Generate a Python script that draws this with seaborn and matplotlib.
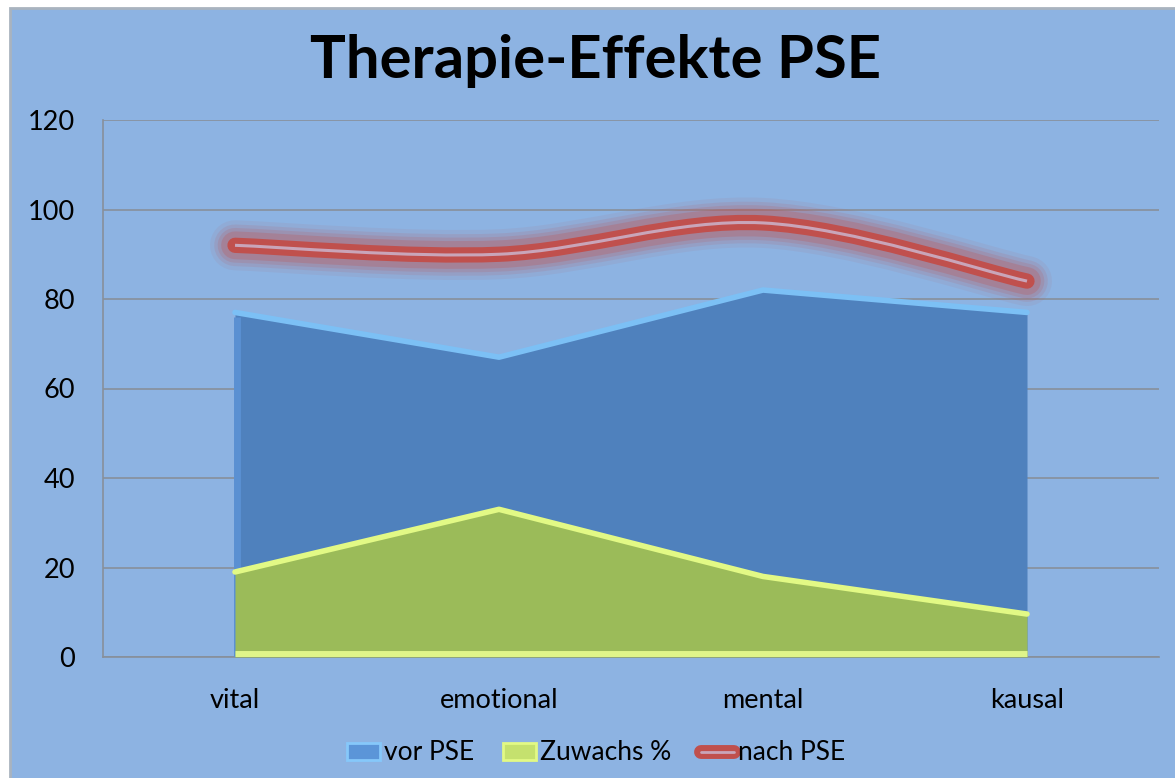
import numpy as np
import pandas as pd
import matplotlib
matplotlib.use("Agg")
import matplotlib.pyplot as plt
import matplotlib.patheffects as pe
from matplotlib.path import Path
from matplotlib.patches import PathPatch, Patch, Rectangle
from matplotlib.lines import Line2D
import seaborn as sns

# values
categories = ["vital", "emotional", "mental", "kausal"]
vor_pse = [77, 67, 82, 77]
zuwachs = [19, 33, 18, 9.6]
nach_pse = [92, 90, 97, 84]
yticks = [0, 20, 40, 60, 80, 100, 120]

df = pd.DataFrame({"kategorie": categories, "vor PSE": vor_pse,
                   "Zuwachs %": zuwachs, "nach PSE": nach_pse})
df["pos"] = np.arange(len(df))

sns.set_theme(style="white")
plt.rcParams["font.family"] = ["Lato", "DejaVu Sans"]
plt.rcParams["text.color"] = "black"

BG = "#8db3e2"
BLUE = "#4f81bd"
GREEN = "#9bbb59"
RED = "#c0504d"
GRID = "#878f9a"


def smooth_path(x, y):
    # Catmull-Rom style bezier through the data points (like Excel's smoothed line)
    x = np.asarray(x, float)
    y = np.asarray(y, float)
    verts = [(x[0], y[0])]
    codes = [Path.MOVETO]
    n = len(x)
    for i in range(n - 1):
        p0 = i - 1 if i > 0 else i
        p3 = i + 2 if i + 2 < n else i + 1
        c1 = (x[i] + (x[i + 1] - x[p0]) / 6, y[i] + (y[i + 1] - y[p0]) / 6)
        c2 = (x[i + 1] - (x[p3] - x[i]) / 6, y[i + 1] - (y[p3] - y[i]) / 6)
        verts += [c1, c2, (x[i + 1], y[i + 1])]
        codes += [Path.CURVE4] * 3
    return Path(verts, codes)


fig = plt.figure(figsize=(11.75, 7.78), dpi=100, facecolor="white")
fig.patches.append(Rectangle((10 / 1175, -0.01), 1.0, 1 - 8 / 778 + 0.01,
                             transform=fig.transFigure, facecolor=BG,
                             edgecolor="#a9b3bf", lw=2, zorder=-10))

ax = fig.add_axes([103 / 1175, 1 - 657 / 778, (1159 - 103) / 1175, (657 - 120) / 778])
ax.set_facecolor("none")

# vor PSE area
ax.fill_between(df["pos"], 0, df["vor PSE"], color=BLUE, lw=0, zorder=2)
ax.plot([0.008, 0.008], [0, vor_pse[0] - 1], color="#5a90d2", lw=5,
        solid_capstyle="butt", zorder=3)
sns.lineplot(x=df["pos"], y=df["vor PSE"], ax=ax, color="#7cc0f5", lw=4, zorder=3)

# Zuwachs % area
ax.fill_between(df["pos"], 0, df["Zuwachs %"], color=GREEN, lw=0, zorder=4)
sns.lineplot(x=df["pos"], y=df["Zuwachs %"], ax=ax, color="#e2f985", lw=4, zorder=5)
ax.plot([0, 3], [0.6, 0.6], color="#dff58a", lw=5, solid_capstyle="butt", zorder=5)

# nach PSE smoothed line with glow and double stroke
path = smooth_path(df["pos"], df["nach PSE"])
for lw, a in [(36, 0.08), (30, 0.12), (25, 0.16), (20, 0.25)]:
    ax.add_patch(PathPatch(path, fill=False, edgecolor=RED, lw=lw, alpha=a,
                           capstyle="round", joinstyle="round", zorder=6))
ax.add_patch(PathPatch(path, fill=False, edgecolor=RED, lw=11,
                       capstyle="round", joinstyle="round", zorder=7))
ax.add_patch(PathPatch(path, fill=False, edgecolor="#c9a5b9", lw=2.2,
                       capstyle="butt", joinstyle="round", zorder=8))

ax.set_xlim(-0.5, 3.5)
ax.set_ylim(0, 120)
ax.set_yticks(yticks)
ax.set_xticks(df["pos"], categories)
ax.set_xlabel("")
ax.set_ylabel("")
ax.yaxis.grid(True, color=GRID, lw=1.2, zorder=1)
ax.set_axisbelow(True)
for s in ["top", "right"]:
    ax.spines[s].set_visible(False)
for s in ["left", "bottom"]:
    ax.spines[s].set_color(GRID)
    ax.spines[s].set_linewidth(1.2)
ax.tick_params(axis="y", length=0, pad=20, labelsize=19.5, labelcolor="black")
ax.tick_params(axis="x", length=0, pad=22, labelsize=19.5, labelcolor="black")

fig.text(595 / 1175, 1 - 61 / 778, "Therapie-Effekte PSE", ha="center", va="center",
         fontsize=43, fontweight="bold", color="black")

handles = [
    Patch(facecolor="#5b95d8", edgecolor="#86c8fa", lw=2),
    Patch(facecolor="#c5e16e", edgecolor="#e2f985", lw=2),
    Line2D([], [], color="#c9a5b9", lw=2, solid_capstyle="round",
           path_effects=[pe.Stroke(linewidth=10, foreground=RED, capstyle="round"), pe.Normal()]),
]
leg = fig.legend(handles, ["vor PSE", "Zuwachs %", "nach PSE"], loc="center",
                 bbox_to_anchor=(596 / 1175, 1 - 753 / 778), ncol=3, frameon=False,
                 fontsize=19, handlelength=1.25, handleheight=0.6, handletextpad=0.15,
                 columnspacing=1.1)
for t in leg.get_texts():
    t.set_color("black")

fig.savefig("out.png", dpi=100, facecolor="white")
